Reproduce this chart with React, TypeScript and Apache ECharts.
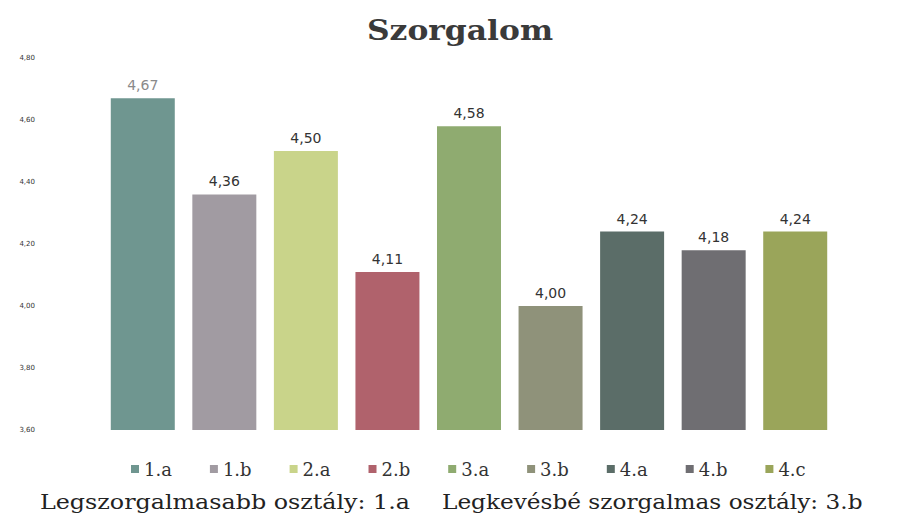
import React, { useEffect, useRef } from "react";
import * as echarts from "echarts";

const title = "Szorgalom";
const categories = ["1.a", "1.b", "2.a", "2.b", "3.a", "3.b", "4.a", "4.b", "4.c"];
const values = [4.67, 4.36, 4.5, 4.11, 4.58, 4.0, 4.24, 4.18, 4.24];
const colors = ["#6f9690", "#a19ba2", "#c9d48a", "#b0626c", "#8fab70", "#8f927a", "#5b6d68", "#6f6e72", "#9aa55a"];
const labelColors = ["#8a8a8a", "#333333", "#333333", "#333333", "#333333", "#333333", "#333333", "#333333", "#333333"];
const yTicks = { min: 3.6, max: 4.8, interval: 0.2 };
const footerLeft = "Legszorgalmasabb osztály: 1.a";
const footerRight = "Legkevésbé szorgalmas osztály: 3.b";

export default function App() {
  const ref = useRef<HTMLDivElement>(null);
  useEffect(() => {
    if (!ref.current) return;
    const chart = echarts.init(ref.current, undefined, { renderer: "svg" });
    const fmt = (v: number) => v.toFixed(2).replace(".", ",");
    const series = categories.map((c, i) => ({
      name: c,
      type: "bar",
      stack: "all",
      barWidth: 64,
      data: categories.map((_, j) => (j === i ? values[i] : null)),
      itemStyle: { color: colors[i] },
      label: {
        show: true,
        position: "top",
        distance: 6,
        color: labelColors[i],
        fontFamily: "DejaVu Sans",
        fontSize: 14,
        formatter: (p: any) => fmt(p.value),
      },
    }));
    chart.setOption({
      animation: false,
      backgroundColor: "#ffffff",
      grid: { left: 102, top: 58, width: 734, bottom: 92 },
      legend: {
        left: 126,
        top: 455,
        itemWidth: 8,
        itemHeight: 8,
        itemGap: 38,
        icon: "rect",
        textStyle: { fontFamily: "DejaVu Serif", fontSize: 18, color: "#333333" },
        data: categories,
      },
      xAxis: {
        type: "category",
        data: categories,
        axisLine: { show: false },
        axisTick: { show: false },
        axisLabel: { show: false },
      },
      yAxis: {
        type: "value",
        min: yTicks.min,
        max: yTicks.max,
        interval: yTicks.interval,
        splitLine: { show: false },
        axisLine: { show: false },
        axisTick: { show: false },
        axisLabel: {
          margin: 67,
          fontSize: 7,
          color: "#333333",
          fontFamily: "DejaVu Sans",
          formatter: (v: number) => fmt(v),
        },
      },
      graphic: [
        {
          type: "text",
          x: 460,
          y: 30,
          scaleX: 1.12,
          style: {
            text: title,
            font: "bold 28px 'DejaVu Serif'",
            fill: "#3a3a3a",
            align: "center",
            verticalAlign: "middle",
          },
        },
        {
          type: "text",
          x: 40,
          y: 502,
          scaleX: 1.19,
          style: { text: footerLeft, font: "20px 'DejaVu Serif'", fill: "#222222", verticalAlign: "middle" },
        },
        {
          type: "text",
          x: 442,
          y: 502,
          scaleX: 1.16,
          style: { text: footerRight, font: "20px 'DejaVu Serif'", fill: "#222222", verticalAlign: "middle" },
        },
      ],
      series,
    });
    return () => chart.dispose();
  }, []);
  return <div ref={ref} style={{ position: "fixed", left: 0, top: 0, width: 908, height: 522 }} />;
}
